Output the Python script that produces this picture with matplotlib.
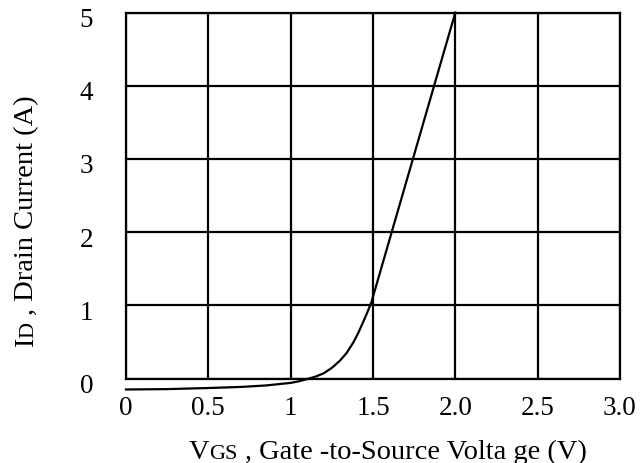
import matplotlib.pyplot as plt
from matplotlib.transforms import ScaledTranslation

# transfer characteristic
vgs = [0.0, 0.25, 0.5, 0.7, 0.85, 1.0, 1.05, 1.1, 1.15, 1.2, 1.25, 1.3, 1.34,
       1.38, 1.41, 1.44, 1.465, 1.49, 2.0]
i_d = [-0.15, -0.145, -0.13, -0.115, -0.095, -0.06, -0.038, -0.008, 0.025, 0.07,
       0.145, 0.245, 0.35, 0.49, 0.62, 0.77, 0.9, 1.04, 5.0]

x_ticks = [0, 0.5, 1, 1.5, 2.0, 2.5, 3.0]
x_labels = ['0', '0.5', '1', '1.5', '2.0', '2.5', '3.0']
y_ticks = [0, 1, 2, 3, 4, 5]

# label pieces: (text, relative size) -> subscripts are drawn as small caps
x_label = [('V', 1.0), ('GS', 0.78), (' , Gate -to-Source Volta ge (V)', 1.0)]
y_label = [('I', 1.0), ('D', 0.78), (' , Drain Current (A)', 1.0)]

plt.rcParams['font.family'] = 'Liberation Serif'
W, H = 641, 464
fig = plt.figure(figsize=(W / 100, H / 100), dpi=100)
ax = fig.add_axes([126 / W, 1 - 379.5 / H, 494 / W, 366 / H])

ax.plot(vgs, i_d, color='black', linewidth=1.6, clip_on=False, zorder=3)

ax.set_xlim(0, 3.0)
ax.set_ylim(0, 5)
ax.set_xticks(x_ticks)
ax.set_xticklabels(x_labels)
ax.set_yticks(y_ticks)
ax.grid(True, color='black', linewidth=1.6)
for s in ax.spines.values():
    s.set_linewidth(1.6)
ax.tick_params(length=0, labelsize=19.5)
ax.tick_params(axis='x', pad=12)
ax.tick_params(axis='y', pad=23.5)
# y tick labels sit a little below their grid lines in the reference
for lab in ax.get_yticklabels():
    lab.set_transform(lab.get_transform() + ScaledTranslation(0, -4 / 100, fig.dpi_scale_trans))


def mixed_label(fig, pieces, centre, base, fontsize, vertical=False):
    """Lay out pieces of different sizes on one baseline, centred on `centre` (px)."""
    r = fig.canvas.get_renderer()

    def width(s, fs):
        t = fig.text(0, 0, s, fontsize=fs)
        w = t.get_window_extent(r).width
        t.remove()
        return w

    gap = width('a a', fontsize) - width('aa', fontsize)
    items = []
    for s, k in pieces:
        lead = gap if s.startswith(' ') else 0
        items.append((s.strip(' '), fontsize * k, lead))
    total = sum(lead + width(s, fs) for s, fs, lead in items)

    if vertical:
        pos = centre + total / 2  # text runs upward, so start at the bottom
        for s, fs, lead in items:
            pos -= lead
            fig.text(base / W, 1 - pos / H, s, fontsize=fs, rotation=90,
                     rotation_mode='anchor', ha='left', va='baseline')
            pos -= width(s, fs)
    else:
        pos = centre - total / 2
        for s, fs, lead in items:
            pos += lead
            fig.text(pos / W, 1 - base / H, s, fontsize=fs, ha='left', va='baseline')
            pos += width(s, fs)


mixed_label(fig, x_label, 388, 459, 20.5)
mixed_label(fig, y_label, 221, 33, 20.5, vertical=True)

fig.savefig('out.png', dpi=100)
